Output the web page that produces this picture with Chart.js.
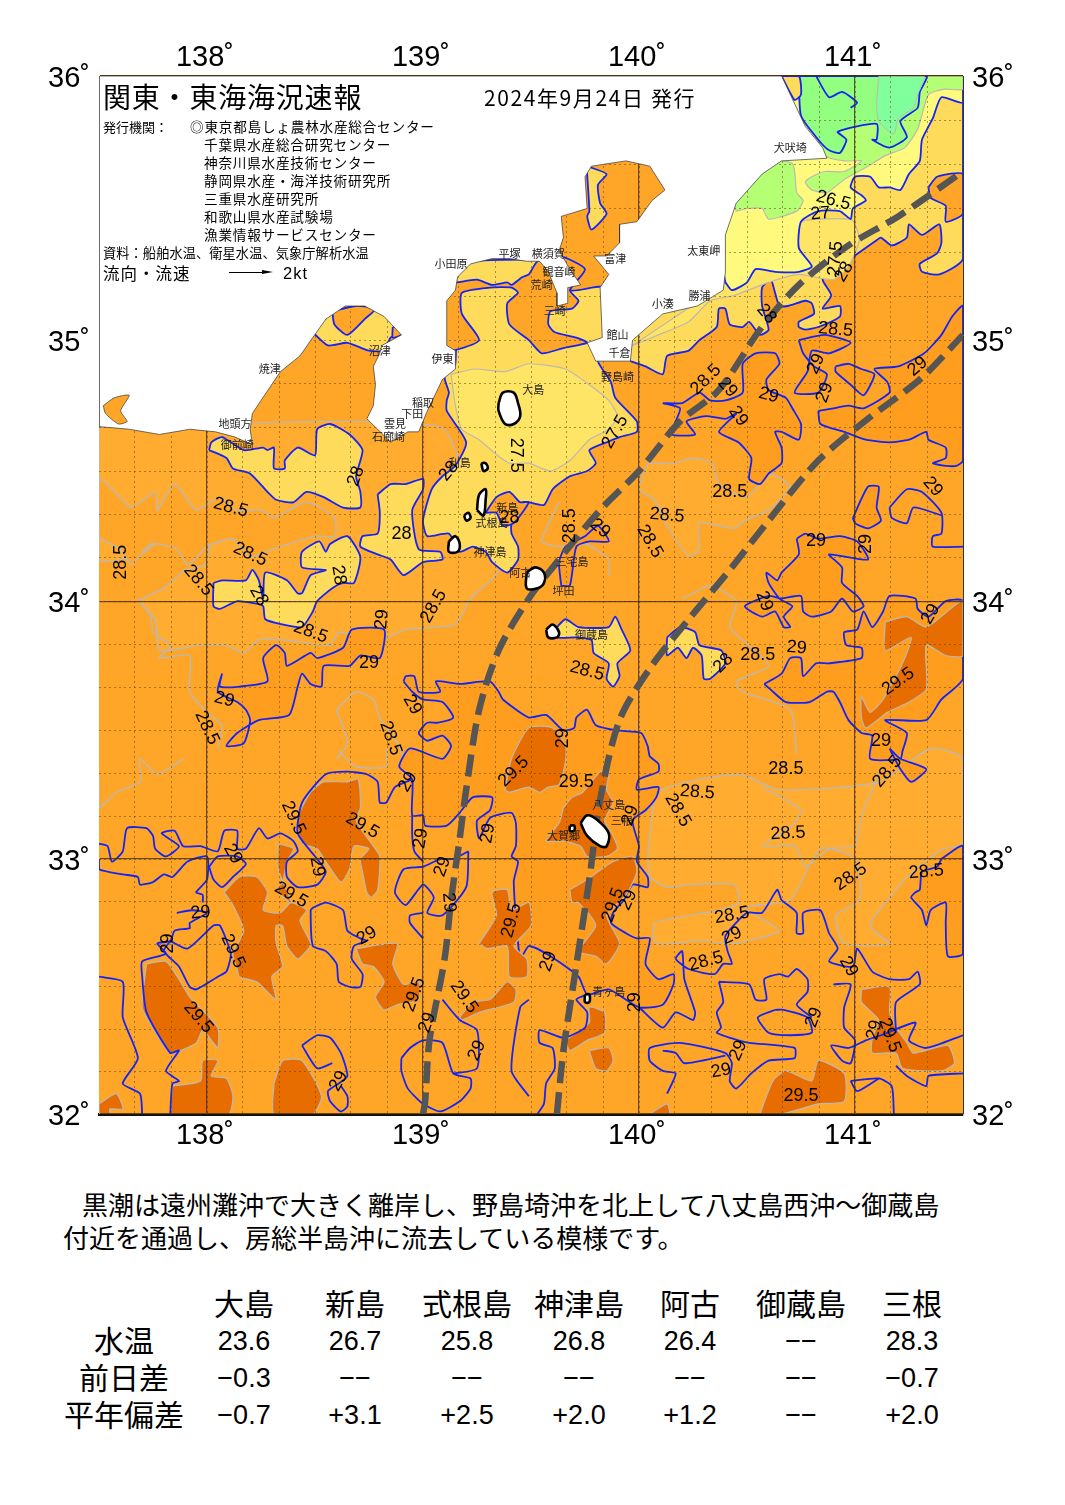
<!DOCTYPE html>
<html lang="ja">
<head>
<meta charset="utf-8">
<title>関東・東海海況速報</title>
<script src="https://cdn.jsdelivr.net/npm/chart.js@4/dist/chart.umd.min.js"></script>
<style>
    html, body { margin: 0; padding: 0; background: #fff; }
    body { position: relative; width: 1065px; height: 1505px; overflow: hidden; font-family: "Noto Sans CJK JP", sans-serif; color: #000; }
    #map { position: absolute; left: 0; top: 0; }
    .t { position: absolute; white-space: nowrap; line-height: 1; }
    .cell { position: absolute; transform: translate(-50%, -50%); white-space: nowrap; line-height: 1; }
    .num { font-family: "Liberation Sans", sans-serif; font-size: 27px; }
    .head { font-size: 30px; margin-top: -2px; }
</style>
</head>
<body>
<canvas id="map" width="1065" height="1160"></canvas>

<div class="t" style="left:103px;top:82px;font-size:28px;letter-spacing:.8px">関東・東海海況速報</div>
<div class="t" style="left:484px;top:87px;font-size:21px;letter-spacing:1.6px">2024年9月24日 発行</div>
<div class="t" style="left:103px;top:120px;font-size:13px">発行機関：</div>
<div class="t" style="left:190px;top:120px;font-size:13.6px;letter-spacing:.8px">◎東京都島しょ農林水産総合センター</div>
<div class="t" style="left:204px;top:138px;font-size:13.6px;letter-spacing:.8px">千葉県水産総合研究センター</div>
<div class="t" style="left:204px;top:156px;font-size:13.6px;letter-spacing:.8px">神奈川県水産技術センター</div>
<div class="t" style="left:204px;top:174px;font-size:13.6px;letter-spacing:.8px">静岡県水産・海洋技術研究所</div>
<div class="t" style="left:204px;top:192px;font-size:13.6px;letter-spacing:.8px">三重県水産研究所</div>
<div class="t" style="left:204px;top:210px;font-size:13.6px;letter-spacing:.8px">和歌山県水産試験場</div>
<div class="t" style="left:204px;top:228px;font-size:13.6px;letter-spacing:.8px">漁業情報サービスセンター</div>
<div class="t" style="left:103px;top:246px;font-size:13.2px;letter-spacing:.1px">資料：船舶水温、衛星水温、気象庁解析水温</div>
<div class="t" style="left:103px;top:265px;font-size:16.5px;letter-spacing:1px">流向・流速</div>
<div style="position:absolute;left:229px;top:272px;width:36px;height:1px;background:#000"></div>
<div style="position:absolute;left:262px;top:270px;border-left:11px solid #000;border-top:2.5px solid transparent;border-bottom:2.5px solid transparent"></div>
<div class="t" style="left:283px;top:265px;font-size:16.5px;letter-spacing:1px;font-family:'Liberation Sans',sans-serif">2kt</div>

<div class="t" style="left:82px;top:1191px;font-size:26px">黒潮は遠州灘沖で大きく離岸し、野島埼沖を北上して八丈島西沖～御蔵島</div>
<div class="t" style="left:63px;top:1224px;font-size:26px">付近を通過し、房総半島沖に流去している模様です。</div>
<div id="table"></div>

<script>
    // Axis ticks
    const lonTicks = [138, 139, 140, 141];
    const latTicks = [32, 33, 34, 35, 36];

    // Bulletin table
    const stationNames = ['大島', '新島', '式根島', '神津島', '阿古', '御蔵島', '三根'];
    const rowLabels = ['水温', '前日差', '平年偏差'];
    const waterTemps = ['23.6', '26.7', '25.8', '26.8', '26.4', '−−', '28.3'];
    const dayDiffs = ['−0.3', '−−', '−−', '−−', '−−', '−−', '−0.7'];
    const normalDiffs = ['−0.7', '+3.1', '+2.5', '+2.0', '+1.2', '−−', '+2.0'];

    // All outlines below are [longitude, latitude]
    const mapBounds = [[137.5,32],[141.5,32],[141.5,36],[137.5,36]];

    const coastline = [[137.5,34.67],[137.64,34.66],[137.78,34.64],[137.92,34.66],[138.04,34.65],[138.13,34.63],[138.21,34.60],[138.20,34.66],[138.21,34.72],[138.25,34.77],[138.34,34.88],[138.43,34.94],[138.49,35.01],[138.55,35.08],[138.64,35.13],[138.73,35.13],[138.82,35.09],[138.90,35.02],[138.81,34.98],[138.80,34.95],[138.77,34.90],[138.78,34.83],[138.77,34.75],[138.74,34.70],[138.79,34.66],[138.85,34.61],[138.93,34.65],[138.98,34.65],[139.02,34.73],[139.09,34.85],[139.15,34.89],[139.15,34.96],[139.11,34.98],[139.11,35.15],[139.15,35.19],[139.16,35.24],[139.22,35.29],[139.32,35.31],[139.40,35.31],[139.48,35.30],[139.54,35.30],[139.58,35.26],[139.62,35.18],[139.62,35.13],[139.67,35.14],[139.67,35.20],[139.73,35.21],[139.68,35.27],[139.63,35.34],[139.65,35.39],[139.64,35.47],[139.76,35.50],[139.75,35.62],[139.78,35.66],[139.94,35.68],[140.05,35.66],[140.12,35.57],[140.06,35.53],[139.99,35.45],[139.91,35.44],[139.91,35.37],[139.85,35.32],[139.79,35.32],[139.86,35.25],[139.82,35.20],[139.83,35.01],[139.76,34.99],[139.80,34.92],[139.96,34.92],[139.97,35.00],[140.11,35.10],[140.27,35.13],[140.39,35.19],[140.40,35.26],[140.40,35.40],[140.45,35.52],[140.57,35.63],[140.66,35.68],[140.87,35.69],[140.85,35.73],[140.77,35.81],[140.66,36],[137.5,36]];
    const atsumiSea = [[137.52,34.75],[137.57,34.78],[137.64,34.79],[137.60,34.73],[137.63,34.69],[137.59,34.68],[137.53,34.72]];

    // 28-28.5 areas
    const coolWest = [[137.5,34.67],[139.08,34.67],[139.22,34.39],[139.35,34.12],[139.22,34.01],[139.15,33.91],[138.92,33.89],[138.80,33.85],[138.61,33.88],[138.57,33.83],[138.36,33.85],[138.24,33.85],[138.17,33.80],[138.08,33.83],[137.97,33.83],[137.78,33.81],[137.76,33.93],[137.69,34.00],[137.80,34.05],[137.90,34.12],[137.99,34.14],[138.01,34.24],[137.94,34.24],[137.80,34.24],[137.69,34.18],[137.5,34.16]];
    const coolWestHole = [[137.56,34.43],[137.65,34.36],[137.76,34.42],[137.77,34.35],[137.85,34.45],[137.95,34.35],[138.06,34.40],[138.13,34.35],[138.25,34.35],[138.31,34.32],[138.46,34.38],[138.59,34.32],[138.59,34.25],[138.50,34.25],[138.30,34.20],[138.20,34.17],[138.12,34.24],[138.00,34.21],[137.91,34.14],[137.86,34.20],[137.74,34.22],[137.65,34.14],[137.60,34.20],[137.5,34.25],[137.5,34.47]];
    const coolCentre = [[140.04,34.53],[140.16,34.53],[140.25,34.55],[140.34,34.53],[140.37,34.45],[140.50,34.40],[140.60,34.49],[140.70,34.44],[140.60,34.35],[140.49,34.31],[140.44,34.28],[140.28,34.30],[140.28,34.20],[140.23,34.17],[140.13,34.29],[140.07,34.39],[140.00,34.43]];
    const coolSouthEast = [[140.04,33.01],[140.05,32.93],[140.13,32.89],[140.23,32.90],[140.44,32.90],[140.46,32.83],[140.37,32.80],[140.07,32.75],[140.08,32.67],[140.28,32.68],[140.44,32.67],[140.65,32.72],[140.49,32.81],[140.70,32.84],[140.84,33.04],[141.00,33],[141.02,32.84],[140.91,32.78],[140.95,32.67],[141.16,32.67],[141.07,32.74],[141.23,32.92],[141.34,33],[141.41,33.04],[141.5,33.06],[141.5,33.39],[141.35,33.43],[141.11,33.30],[140.65,33.27],[140.46,33.33],[140.09,33.26]];

    // 29+ areas
    const warmWest = [[138.07,33.72],[138.06,33.67],[138.15,33.67],[138.28,33.69],[138.26,33.78],[138.32,33.83],[138.36,33.80],[138.37,33.75],[138.48,33.80],[138.51,33.78],[138.63,33.82],[138.67,33.89],[138.82,33.89],[138.80,33.78],[138.71,33.79],[138.66,33.75],[138.54,33.75],[138.53,33.67],[138.48,33.68],[138.44,33.72],[138.42,33.67],[138.38,33.56],[138.24,33.54],[138.14,33.49],[138.09,33.44],[138.17,33.45],[138.20,33.54],[138.18,33.58],[138.14,33.61],[138.05,33.65]];
    const warmCentre = [[138.91,33.69],[138.92,33.71],[138.96,33.71],[138.98,33.65],[139.08,33.65],[139.06,33.69],[139.17,33.68],[139.31,33.69],[139.35,33.65],[139.37,33.62],[139.49,33.55],[139.57,33.56],[139.65,33.50],[139.70,33.51],[139.71,33.55],[139.76,33.58],[139.80,33.52],[139.90,33.50],[140.01,33.49],[140.04,33.44],[140.05,33.40],[140.09,33.37],[140.09,33.34],[140.00,33.31],[139.99,33.27],[140.09,33.28],[140.08,33.24],[140.03,33.19],[139.97,33.15],[140.00,33.05],[139.99,32.99],[140.04,32.93],[140.04,32.89],[139.97,32.90],[139.93,32.84],[139.88,32.79],[139.87,32.75],[139.94,32.71],[139.99,32.69],[140.05,32.69],[140.03,32.59],[140.09,32.53],[140.16,32.55],[140.16,32.51],[140.11,32.43],[140.00,32.42],[139.86,32.49],[139.76,32.47],[139.72,32.54],[139.59,32.62],[139.49,32.66],[139.45,32.61],[139.42,32.91],[139.44,32.99],[139.41,33.01],[139.43,33.05],[139.43,33.14],[139.41,33.18],[139.31,33.16],[139.26,33.08],[139.25,33.15],[139.31,33.19],[139.32,33.24],[139.23,33.24],[139.17,33.18],[139.11,33.13],[139.01,33.13],[139.00,33.17],[138.95,33.17],[138.95,33.31],[138.89,33.36],[138.94,33.43],[139.09,33.39],[139.13,33.44],[139.09,33.48],[139.02,33.46],[138.98,33.49],[139.02,33.53],[139.07,33.53],[139.14,33.55],[139.09,33.61],[139.00,33.62],[138.95,33.65]];
    const warmBosoOff = [[140.11,34.76],[140.20,34.76],[140.28,34.80],[140.33,34.77],[140.40,34.77],[140.48,34.80],[140.48,34.91],[140.54,34.95],[140.63,34.95],[140.65,34.91],[140.59,34.85],[140.60,34.81],[140.68,34.78],[140.71,34.74],[140.75,34.68],[140.74,34.62],[140.66,34.65],[140.63,34.65],[140.66,34.59],[140.66,34.53],[140.60,34.49],[140.56,34.45],[140.51,34.47],[140.52,34.55],[140.46,34.61],[140.37,34.65],[140.45,34.72],[140.40,34.70],[140.31,34.71],[140.22,34.69],[140.26,34.64],[140.15,34.64],[140.17,34.69],[140.19,34.74]];
    const warmPatchA = [[140.74,35],[140.86,35.02],[140.98,34.99],[140.88,34.95],[140.80,34.96],[140.78,34.88],[140.72,34.80],[140.83,34.80],[140.87,34.87],[140.81,34.90],[140.76,34.95]];
    const warmPatchB = [[140.91,34.90],[140.97,34.91],[141.03,34.89],[141.09,34.87],[141.04,34.79],[140.98,34.83],[140.91,34.88]];
    const warmEast = [[140.83,34.73],[140.84,34.68],[140.95,34.65],[141.05,34.62],[141.16,34.61],[141.25,34.62],[141.33,34.65],[141.34,34.62],[141.42,34.59],[141.42,34.55],[141.36,34.53],[141.42,34.52],[141.47,34.52],[141.5,34.54],[141.5,35.13],[141.45,35.09],[141.40,35.02],[141.32,34.95],[141.20,34.90],[141.09,34.89],[141.15,34.84],[141.16,34.80],[141.04,34.74],[140.97,34.75],[140.90,34.74]];
    const warmPatchC = [[140.99,34.32],[141.06,34.44],[141.11,34.44],[141.10,34.36],[141.12,34.31],[141.06,34.28],[141.00,34.30]];
    const warmBlobA = [[140.73,34.24],[140.77,34.26],[140.83,34.24],[140.93,34.25],[141.01,34.23],[141.06,34.16],[140.88,34.18],[140.94,34.13],[140.94,34.07],[141.01,34.02],[141.04,33.98],[140.99,33.96],[140.94,34.01],[140.89,33.96],[140.80,33.94],[140.76,33.96],[140.75,34.02],[140.66,34.01],[140.60,34.02],[140.49,33.98],[140.57,33.94],[140.63,33.96],[140.67,33.90],[140.70,33.90],[140.67,33.94],[140.71,33.98],[140.65,34.01],[140.60,34.07],[140.59,34.11],[140.64,34.08],[140.66,34.11],[140.74,34.18]];
    const warmBlobB = [[140.58,33.68],[140.66,33.72],[140.70,33.78],[140.75,33.78],[140.76,33.71],[140.82,33.76],[140.88,33.76],[141.03,33.78],[141.03,33.82],[140.96,33.83],[140.95,33.88],[141.01,33.89],[141.04,33.96],[141.08,33.90],[141.13,33.96],[141.16,34.02],[141.28,34.01],[141.29,33.97],[141.34,33.94],[141.42,34.00],[141.5,34],[141.5,33.70],[141.40,33.62],[141.33,33.54],[141.14,33.54],[141.24,33.49],[141.22,33.42],[141.21,33.39],[141.07,33.39],[141.08,33.48],[141.03,33.49],[140.97,33.54],[140.93,33.61],[140.90,33.65],[140.87,33.65],[140.79,33.61],[140.68,33.61],[140.62,33.65]];
    const warmPatchD = [[141.16,33.43],[141.21,33.39],[141.33,33.35],[141.26,33.30],[141.21,33.35]];
    const warmBlobC = [[141.40,33],[141.5,33.05],[141.5,32.63],[141.43,32.62],[141.42,32.75],[141.42,32.83],[141.35,32.80],[141.33,32.74],[141.31,32.80],[141.26,32.85],[141.28,32.87],[141.30,32.88],[141.31,32.95],[141.38,32.97]];
    const warmMiyake = [[139.64,34.06],[139.63,34.15],[139.66,34.21],[139.75,34.25],[139.81,34.29],[139.86,34.23],[139.77,34.23],[139.71,34.21],[139.68,34.06]];

    // Pockets below 29 inside the warm side
    const pocketA = [[138.49,32.81],[138.55,32.83],[138.63,32.80],[138.65,32.72],[138.71,32.69],[138.74,32.68],[138.68,32.66],[138.67,32.61],[138.72,32.55],[138.71,32.50],[138.66,32.50],[138.61,32.52],[138.60,32.59],[138.55,32.64],[138.49,32.66],[138.48,32.80]];
    const pocketB = [[137.83,32.68],[137.91,32.65],[138.03,32.74],[138.06,32.74],[138.11,32.63],[138.09,32.56],[138.05,32.54],[137.95,32.49],[137.92,32.50],[137.87,32.58],[137.80,32.64]];

    // 29.5+ areas
    const hotA = [[138.42,33.17],[138.48,33.26],[138.54,33.30],[138.65,33.30],[138.70,33.31],[138.71,33.20],[138.69,33.15],[138.77,33.05],[138.80,33.01],[138.79,32.88],[138.76,32.85],[138.74,32.87],[138.72,32.95],[138.71,33.00],[138.75,33.04],[138.68,33.05],[138.66,32.96],[138.62,32.91],[138.55,32.99],[138.51,33.04],[138.44,33.06],[138.42,33.12]];
    const hotB = [[138.08,32.87],[138.15,32.93],[138.23,32.93],[138.28,32.87],[138.26,32.80],[138.34,32.79],[138.39,32.83],[138.46,32.80],[138.43,32.76],[138.48,32.67],[138.47,32.65],[138.42,32.61],[138.37,32.66],[138.35,32.74],[138.32,32.74],[138.32,32.67],[138.35,32.58],[138.30,32.54],[138.32,32.45],[138.28,32.48],[138.23,32.52],[138.15,32.54],[138.14,32.57],[138.12,32.63],[138.17,32.72],[138.12,32.82]];
    const hotBStrip = [[138.33,33.06],[138.40,33.04],[138.37,32.99],[138.35,32.91],[138.32,32.88],[138.39,32.83],[138.33,32.96]];
    const hotC = [[137.72,32.59],[137.81,32.60],[137.87,32.53],[137.92,32.46],[138.05,32.34],[138.05,32.26],[138.03,32.28],[137.98,32.33],[137.95,32.28],[137.83,32.24],[137.75,32.34],[137.70,32.42]];
    const hotD = [[137.5,32.04],[137.58,32.08],[137.61,32.02],[137.55,32.02],[137.55,32],[137.5,32]];
    const hotE = [[137.84,32.11],[137.97,32.13],[137.98,32.21],[138.05,32.21],[138.02,32.15],[138.09,32.14],[138.12,32.07],[138.10,32],[137.84,32]];
    const hotF = [[138.31,32.12],[138.35,32.21],[138.44,32.21],[138.53,32.07],[138.49,32],[138.31,32]];
    const hotG = [[138.69,32.65],[138.88,32.67],[138.86,32.59],[138.91,32.51],[138.98,32.52],[138.98,32.45],[138.88,32.43],[138.82,32.41],[138.78,32.46],[138.82,32.52],[138.77,32.58],[138.72,32.59]];
    const hotH = [[139.17,32.38],[139.23,32.44],[139.31,32.45],[139.39,32.52],[139.43,32.49],[139.42,32.44],[139.26,32.40],[139.18,32.37]];
    const hotI = [[139.26,32.67],[139.34,32.78],[139.32,32.87],[139.39,32.88],[139.41,32.80],[139.49,32.83],[139.50,32.74],[139.42,32.66],[139.48,32.61],[139.48,32.54],[139.40,32.54],[139.39,32.66],[139.30,32.65]];
    const hotJ = [[139.38,33.27],[139.41,33.39],[139.49,33.51],[139.60,33.51],[139.66,33.44],[139.66,33.38],[139.63,33.29],[139.58,33.28],[139.54,33.26],[139.49,33.28],[139.40,33.26]];
    const hotK = [[139.65,33.20],[139.69,33.24],[139.74,33.26],[139.82,33.34],[139.86,33.34],[139.85,33.27],[139.88,33.22],[139.84,33.15],[139.88,33.09],[139.90,33.04],[139.85,33.01],[139.76,33.01],[139.73,33.05],[139.65,33.07],[139.57,33.07],[139.63,33.14]];
    const hotL = [[139.68,32.88],[139.76,32.92],[139.88,32.99],[139.97,33.01],[139.99,32.95],[139.94,32.86],[139.85,32.78],[139.91,32.67],[139.85,32.59],[139.80,32.62],[139.72,32.64],[139.80,32.74],[139.72,32.83],[139.69,32.83]];
    const hotM = [[139.66,32.29],[139.77,32.36],[139.77,32.42],[139.84,32.40],[139.84,32.32],[139.76,32.29],[139.68,32.25]];
    const hotN = [[139.77,32.25],[139.86,32.26],[139.88,32.21],[139.85,32.17],[139.80,32.18]];
    const hotO = [[140.05,32],[140.13,32.04],[140.14,32]];
    const hotP = [[140.56,32],[140.62,32.13],[140.68,32.17],[140.80,32.13],[140.83,32.21],[140.95,32.16],[140.95,32.05],[140.83,32.04],[140.66,32]];
    const hotQ = [[141.03,32.49],[141.16,32.50],[141.16,32.40],[141.19,32.34],[141.24,32.28],[141.27,32.24],[141.43,32.27],[141.46,32.20],[141.40,32.17],[141.22,32.18],[141.19,32.24],[141.08,32.24],[141.08,32.30],[141.11,32.37],[141.03,32.44]];
    const hotR = [[141.14,33.92],[141.24,33.94],[141.33,33.90],[141.5,34],[141.5,33.79],[141.42,33.79],[141.33,33.83],[141.33,33.66],[141.25,33.61],[141.15,33.57],[141.05,33.51],[141.03,33.55],[141.03,33.63],[141.07,33.57],[141.13,33.62],[141.22,33.76],[141.26,33.86],[141.14,33.81]];

    // Below 28 areas
    const sagami28 = [[139.15,35.30],[139.58,35.30],[139.68,35.19],[139.84,35.20],[139.84,34.98],[139.81,34.92],[139.87,34.84],[139.89,34.78],[139.99,34.69],[139.99,34.65],[139.91,34.63],[139.85,34.61],[139.77,34.58],[139.80,34.53],[139.76,34.50],[139.68,34.48],[139.60,34.43],[139.56,34.37],[139.49,34.38],[139.46,34.38],[139.41,34.30],[139.41,34.26],[139.44,34.21],[139.44,34.16],[139.39,34.11],[139.32,34.15],[139.29,34.19],[139.23,34.21],[139.17,34.19],[139.12,34.26],[139.02,34.25],[139.00,34.31],[139.04,34.43],[139.09,34.48],[139.15,34.52],[139.20,34.61],[139.11,34.73],[139.11,34.77],[139.12,34.80],[139.10,34.86],[139.15,34.91]];
    const sagamiHole = [[139.16,35.22],[139.25,35.23],[139.32,35.21],[139.39,35.22],[139.41,35.21],[139.46,35.24],[139.49,35.25],[139.53,35.30],[139.63,35.32],[139.75,35.27],[139.68,35.19],[139.72,35.15],[139.69,35.12],[139.59,35.11],[139.58,35.06],[139.61,35.03],[139.71,35.01],[139.76,34.99],[139.65,34.97],[139.55,34.95],[139.49,35.00],[139.40,35.06],[139.39,35.14],[139.44,35.18],[139.41,35.20],[139.31,35.20],[139.18,35.18],[139.18,35.10],[139.26,35.00],[139.14,34.96],[139.08,34.96],[139.08,35.22]];
    const oshima275 = [[139.13,34.87],[139.24,34.89],[139.38,34.88],[139.49,34.91],[139.66,34.89],[139.77,34.83],[139.86,34.77],[139.90,34.71],[139.86,34.66],[139.77,34.62],[139.68,34.54],[139.59,34.50],[139.49,34.53],[139.40,34.53],[139.33,34.57],[139.26,34.62],[139.18,34.66],[139.15,34.75]];
    const niijimaHole = [[139.29,34.34],[139.34,34.40],[139.40,34.42],[139.45,34.38],[139.49,34.38],[139.42,34.30],[139.37,34.29],[139.34,34.34]];
    const enshu28 = [[138.01,34.58],[138.09,34.55],[138.12,34.51],[138.20,34.49],[138.28,34.42],[138.32,34.39],[138.40,34.38],[138.46,34.42],[138.54,34.40],[138.63,34.36],[138.71,34.36],[138.71,34.42],[138.69,34.48],[138.72,34.58],[138.66,34.64],[138.57,34.68],[138.51,34.66],[138.50,34.56],[138.42,34.59],[138.36,34.54],[138.36,34.51],[138.31,34.51],[138.31,34.59],[138.28,34.58],[138.26,34.59],[138.17,34.58],[138.07,34.63],[138.02,34.61]];
    const zenisu28 = [[138.79,34.41],[138.85,34.45],[138.92,34.45],[139.00,34.47],[139.00,34.43],[138.95,34.35],[138.98,34.20],[139.08,34.19],[139.09,34.16],[139.00,34.15],[138.91,34.10],[138.85,34.16],[138.79,34.18],[138.71,34.21],[138.72,34.25],[138.79,34.26],[138.80,34.34]];
    const lobes28 = [[138.03,34.07],[138.03,33.98],[138.06,33.97],[138.14,34.00],[138.23,33.99],[138.26,33.98],[138.27,33.93],[138.35,33.91],[138.44,33.90],[138.49,33.96],[138.51,34.00],[138.58,34.05],[138.63,34.07],[138.68,34.07],[138.71,34.17],[138.65,34.25],[138.57,34.22],[138.55,34.19],[138.52,34.23],[138.44,34.19],[138.44,34.13],[138.55,34.12],[138.48,34.10],[138.44,34.03],[138.42,34.03],[138.37,34.08],[138.27,34.11],[138.26,34.01],[138.24,34.08],[138.21,34.12],[138.18,34.08],[138.07,34.08]];
    const mikura28 = [[139.62,33.90],[139.66,33.93],[139.72,33.90],[139.86,33.90],[139.89,33.94],[139.92,33.89],[139.96,33.81],[139.90,33.76],[139.91,33.71],[139.88,33.67],[139.85,33.70],[139.86,33.76],[139.79,33.80],[139.78,33.85],[139.71,33.86],[139.62,33.86]];
    const eastPatch28 = [[140.13,33.86],[140.19,33.90],[140.26,33.88],[140.28,33.83],[140.38,33.81],[140.40,33.76],[140.33,33.70],[140.30,33.70],[140.29,33.79],[140.25,33.82],[140.22,33.78],[140.18,33.82],[140.13,33.79]];
    const suruga28 = [[138.49,35.03],[138.57,35.10],[138.69,35.12],[138.78,35.12],[138.86,35.08],[138.90,35.03],[138.85,35.01],[138.82,34.96],[138.75,34.96],[138.65,34.99],[138.56,34.98]];
    const surugaHole = [[138.58,35.11],[138.59,35.06],[138.65,35.02],[138.73,35.08],[138.78,35.12],[138.69,35.13]];
    const surugaTip = [[138.86,35.05],[138.90,35.05],[138.90,35.02],[138.86,35.01]];
    const tokyoBay28 = [[139.76,35.66],[139.85,35.63],[139.81,35.59],[139.82,35.52],[139.85,35.48],[139.78,35.42],[139.76,35.47],[139.77,35.49],[139.76,35.63]];
    const boso28 = [[139.96,34.92],[140.03,34.90],[140.11,34.87],[140.13,34.94],[140.23,34.96],[140.28,35.00],[140.36,35.05],[140.37,35.12],[140.40,35.12],[140.42,35.06],[140.48,35.05],[140.51,35.07],[140.56,35.02],[140.60,35.04],[140.57,35.13],[140.57,35.20],[140.61,35.23],[140.63,35.18],[140.65,35.13],[140.69,35.13],[140.77,35.15],[140.80,35.14],[140.81,35.10],[140.74,35.07],[140.74,35.05],[140.77,35.04],[140.83,35.05],[140.93,35.09],[140.93,35.13],[140.85,35.12],[140.89,35.17],[140.85,35.23],[140.88,35.27],[140.94,35.28],[140.98,35.31],[141.10,35.38],[141.12,35.39],[141.17,35.36],[141.24,35.39],[141.25,35.44],[141.31,35.40],[141.39,35.44],[141.40,35.37],[141.38,35.33],[141.30,35.29],[141.31,35.26],[141.39,35.25],[141.5,35.31],[141.5,36],[140.66,36],[139.91,35.0]];
    const bosoHole = [[141.34,35.58],[141.38,35.62],[141.5,35.63],[141.5,35.48],[141.42,35.45],[141.42,35.51],[141.35,35.54]];
    const boso275 = [[139.97,34.98],[140.09,35.02],[140.23,35.07],[140.33,35.15],[140.44,35.17],[140.60,35.22],[140.74,35.25],[140.90,35.23],[140.97,35.28],[141.02,35.38],[141.00,35.44],[140.98,35.46],[140.75,35.45],[140.74,35.35],[140.80,35.28],[140.54,35.27],[140.40,35.22],[140.28,35.15]];
    const boso27 = [[140.40,35.22],[140.43,35.19],[140.50,35.22],[140.54,35.27],[140.63,35.26],[140.74,35.26],[140.80,35.28],[140.74,35.35],[140.75,35.45],[140.83,35.49],[140.93,35.49],[140.98,35.46],[140.99,35.50],[141.05,35.53],[141.03,35.55],[140.98,35.58],[141.00,35.62],[141.07,35.62],[141.11,35.58],[141.16,35.58],[141.21,35.57],[141.25,35.63],[141.30,35.68],[141.31,35.76],[141.36,35.84],[141.40,35.92],[141.5,35.90],[141.5,36],[140.66,36],[140.37,35.38]];
    const choshi265 = [[140.45,35.49],[140.50,35.50],[140.57,35.50],[140.60,35.46],[140.73,35.49],[140.76,35.53],[140.73,35.56],[140.71,35.67],[140.56,35.68],[140.42,35.57]];
    const north265 = [[140.70,36],[141.5,36],[141.50,35.95],[141.41,35.95],[141.34,35.93],[141.29,35.80],[141.23,35.73],[141.14,35.70],[141.06,35.66],[140.95,35.61],[140.87,35.56],[140.80,35.57],[140.77,35.60],[140.80,35.62],[140.86,35.64],[140.95,35.64],[141.03,35.68],[140.95,35.68],[140.86,35.70],[140.81,35.80]];
    const north26 = [[140.74,36],[140.75,35.85],[140.83,35.76],[140.88,35.72],[140.93,35.71],[140.96,35.76],[140.92,35.79],[141.10,35.82],[141.10,35.76],[141.08,35.76],[141.16,35.73],[141.24,35.77],[141.21,35.83],[141.29,35.88],[141.30,35.94],[141.33,36]];
    const north255 = [[141.11,36],[141.32,36],[141.29,35.93],[141.27,35.88],[141.20,35.84],[141.18,35.78],[141.11,35.83],[141.10,35.89]];
    const northCorner = [[140.66,36],[140.74,36],[140.75,35.93],[140.72,35.91]];

    // Open 29 degree isotherms
    const line29Gulf = [[137.50,33.06],[137.54,33.05],[137.56,32.99],[137.61,33.03],[137.63,33.12],[137.72,33.12],[137.75,33.09],[137.76,33.04],[137.81,33.01],[137.87,33.05],[137.79,33.10],[137.85,33.11],[137.89,33.05],[137.97,33.05],[138.05,33.03],[138.08,33.11],[138.14,33.11],[138.14,33.04],[138.18,33.04],[138.24,33.12],[138.28,33.08],[138.34,33.10],[138.40,33.07],[138.42,33.03],[138.37,32.99],[138.37,32.93],[138.42,32.89],[138.51,32.90],[138.55,32.95],[138.51,33.00],[138.42,33.10],[138.44,33.22],[138.55,33.33],[138.65,33.34],[138.74,33.33],[138.79,33.30],[138.80,33.22],[138.83,33.22],[138.87,33.28],[138.95,33.31]];
    const line29Below = [[137.5,33],[137.5,32.96],[137.61,32.94],[137.68,32.93],[137.69,32.90],[137.75,32.91],[137.80,32.94],[137.84,32.93],[137.91,32.99],[138.00,33.01],[138.00,32.92],[137.95,32.87],[137.98,32.86],[137.98,32.83]];
    const loop29 = [[138.01,32.97],[138.05,33.01],[138.14,33.01],[138.18,32.98],[138.12,32.93],[138.07,32.89],[138.03,32.92],[138.01,32.97]];
    const line29Left = [[137.86,32.79],[137.93,32.80],[138.00,32.79],[137.92,32.75],[137.92,32.73],[137.85,32.72],[137.83,32.68],[137.77,32.67],[137.81,32.63],[137.70,32.60],[137.70,32.54],[137.72,32.40],[137.83,32.24],[137.87,32.25],[137.81,32.17],[137.87,32.13],[137.84,32.12],[137.83,32]];
    const line29Edge = [[137.5,32.54],[137.61,32.52],[137.61,32.38],[137.68,32.22],[137.61,32.12],[137.69,32.08],[137.70,32]];
    const line29Foot = [[138.44,32.27],[138.51,32.31],[138.57,32.30],[138.62,32.24],[138.65,32.15],[138.61,32.12],[138.56,32.09],[138.57,32.05],[138.62,32.01],[138.65,32.03],[138.65,32.07],[138.62,32.11]];
    const line29FootB = [[138.44,32.27],[138.51,32.18],[138.58,32.20]];
    const loop29South = [[138.90,32.22],[138.94,32.26],[139.00,32.29],[139.09,32.28],[139.14,32.16],[139.22,32.14],[139.22,32.10],[139.17,32.05],[139.08,32.01],[139.00,32.04],[138.93,32.10],[138.90,32.17],[138.90,32.22]];
    const line29SouthB = [[139.14,32.16],[139.25,32.18],[139.25,32.33],[139.17,32.37],[139.09,32.45]];
    const line29Aoga = [[139.76,32.47],[139.71,32.45],[139.76,32.40],[139.75,32.34],[139.65,32.30],[139.54,32.33],[139.54,32.28],[139.60,32.26],[139.61,32.18],[139.57,32.12],[139.56,32.04],[139.53,32]];
    const line29AogaB = [[139.49,32.45],[139.45,32.42],[139.41,32.17],[139.49,32.07]];
    const line29Mid = [[138.95,33.17],[138.95,33.09],[138.96,33.03],[139.00,32.99]];
    const line29MidB = [[139.21,33.03],[139.14,33],[139.08,33],[139.00,32.97],[138.91,32.96],[138.87,32.87],[138.92,32.82],[139.00,32.90],[139.05,32.85],[139.02,32.79],[139.09,32.78],[139.20,32.89],[139.21,33.03]];
    const line29MidC = [[139,32.79],[138.94,32.78],[138.94,32.75],[139.00,32.69]];
    const line29Long = [[140.00,32.42],[140.11,32.34],[140.17,32.40],[140.25,32.37],[140.26,32.40],[140.21,32.53],[140.20,32.64],[140.17,32.61],[140.23,32.57],[140.35,32.55],[140.39,32.59],[140.43,32.59],[140.41,32.64],[140.40,32.70],[140.50,32.79],[140.57,32.79],[140.64,32.88],[140.66,32.84],[140.73,32.79],[140.73,32.71],[140.76,32.71],[140.76,32.79],[140.84,32.80],[140.88,32.71],[140.92,32.65],[140.88,32.60],[140.99,32.58],[141.01,32.65],[141.08,32.56],[141.16,32.53],[141.25,32.53],[141.29,32.56],[141.30,32.51],[141.19,32.44],[141.19,32.32]];
    const line29Ring = [[140.37,32.52],[140.51,32.51],[140.54,32.45],[140.59,32.45],[140.58,32.53],[140.65,32.55],[140.69,32.54],[140.73,32.57],[140.78,32.53],[140.78,32.48],[140.73,32.43],[140.80,32.38]];
    const line29RingB = [[140.37,32.52],[140.39,32.44],[140.36,32.40],[140.38,32.34],[140.36,32.32],[140.46,32.29],[140.51,32.28],[140.72,32.26],[140.72,32.22],[140.60,32.21],[140.52,32.16],[140.45,32.10],[140.42,32.13],[140.43,32.20],[140.40,32.24],[140.19,32.28],[140.05,32.26],[140.05,32.21],[140.11,32.17],[140.17,32.16],[140.13,32.08]];
    const line29RingC = [[140.11,32.25],[140.17,32.24],[140.21,32.20],[140.40,32.23]];
    const loop29Inner = [[140.63,32.41],[140.55,32.38],[140.60,32.32],[140.70,32.31],[140.80,32.32],[140.78,32.38],[140.67,32.41],[140.63,32.41]];
    const line29EastLow = [[140.90,32.51],[140.98,32.51],[140.95,32.42],[140.95,32.34],[141.00,32.29],[140.98,32.20],[140.94,32.21],[140.89,32.27],[140.97,32.26],[141.05,32.29],[141.12,32.31],[141.28,32.36],[141.25,32.29],[141.33,32.26],[141.5,32.31]];
    const line29Foot2 = [[140.98,32.13],[141.11,32.14],[141.17,32.11],[141.18,32]];
    const line29Foot2B = [[140.98,32.13],[141.01,32.09],[141.11,32.14]];
    const line29Corner = [[141.19,32.19],[141.24,32.15],[141.33,32.11],[141.34,32.15],[141.5,32.16]];
    const line29Right = [[141.16,34.36],[141.24,34.43],[141.31,34.42],[141.40,34.34],[141.40,34.26],[141.36,34.25],[141.36,34.21],[141.5,34.21]];
    const line29RightB = [[141.16,34.36],[141.17,34.32],[141.24,34.30],[141.27,34.36],[141.40,34.33]];
    const lineNorthInner = [[140.82,36],[140.88,35.92],[140.94,35.94],[141.01,35.90],[140.98,35.88]];

    // Open 28.5 degree isotherms
    const line285Miyake = [[139.63,34.38],[139.55,34.23],[139.63,34.21],[139.75,34.22],[139.86,34.16],[139.86,34.10]];
    const line285East = [[140.20,34.01],[140.25,34.03],[140.33,34.06],[140.45,34],[140.42,33.90],[140.48,33.85],[140.60,33.75],[140.45,33.69],[140.48,33.65],[140.70,33.58],[140.73,33.41]];
    const line285Hachijo = [[140.57,33.28],[140.66,33.24],[140.75,33.19],[140.71,33.13],[140.57,33.05],[140.72,33.05],[140.77,32.97],[140.88,33.04],[141.00,33.05],[141.03,33.17],[141.12,33.35]];
    const line285Edge = [[137.5,33.33],[137.5,33.20],[137.58,33.26],[137.69,33.30],[137.69,33.39],[137.77,33.33],[137.89,33.39]];
    const line285West = [[137.68,34.01],[137.74,33.94],[137.75,33.88],[137.83,33.83],[137.78,33.78],[137.92,33.79],[137.92,33.65],[138.00,33.57],[138.07,33.52],[138.05,33.43]];
    const line285Centre = [[138.60,33.58],[138.69,33.65],[138.77,33.62],[138.80,33.55],[138.89,33.44],[138.91,33.39]];
    const line285CentreB = [[138.60,33.58],[138.65,33.45],[138.60,33.39]];
    const line285CentreC = [[138.61,33.42],[138.69,33.36],[138.83,33.36],[138.83,33.43]];

    // Kuroshio axis, two branches
    const kuroshioWest = [[139.00,32],[139.01,32.05],[139.03,32.29],[139.10,32.61],[139.13,32.84],[139.17,33.08],[139.20,33.27],[139.26,33.58],[139.35,33.81],[139.49,34.01],[139.63,34.16],[139.82,34.35],[140.00,34.50],[140.19,34.69],[140.37,34.81],[140.56,35.04],[140.74,35.21],[140.97,35.36],[141.20,35.47],[141.50,35.64]];
    const kuroshioEast = [[139.62,32],[139.65,32.25],[139.70,32.53],[139.77,32.92],[139.82,33.23],[139.91,33.54],[140.05,33.74],[140.23,33.93],[140.42,34.12],[140.60,34.31],[140.83,34.54],[141.06,34.70],[141.30,34.85],[141.50,35.02]];

    // Islands
    const islandOshima = [[139.35,34.76],[139.37,34.80],[139.42,34.80],[139.44,34.76],[139.45,34.71],[139.42,34.68],[139.38,34.68],[139.35,34.73]];
    const islandToshima = [[139.27,34.53],[139.29,34.53],[139.30,34.51],[139.28,34.50]];
    const islandNiijima = [[139.25,34.35],[139.26,34.41],[139.29,34.43],[139.29,34.39],[139.28,34.33]];
    const islandShikine = [[139.19,34.33],[139.21,34.34],[139.22,34.32],[139.20,34.31]];
    const islandKozu = [[139.12,34.23],[139.15,34.25],[139.17,34.22],[139.16,34.19],[139.12,34.19]];
    const islandMiyake = [[139.48,34.11],[139.52,34.13],[139.56,34.11],[139.56,34.07],[139.53,34.05],[139.48,34.05]];
    const islandMikura = [[139.57,33.89],[139.60,33.91],[139.63,33.88],[139.62,33.86],[139.58,33.86]];
    const islandHachijo = [[139.73,33.14],[139.76,33.17],[139.81,33.15],[139.86,33.10],[139.85,33.05],[139.82,33.05],[139.76,33.09]];
    const islandKojima = [[139.68,33.13],[139.70,33.13],[139.70,33.11],[139.68,33.11]];
    const islandAoga = [[139.75,32.47],[139.77,32.47],[139.77,32.44],[139.75,32.44]];

    // Isotherm labels: text, lon, lat, reading angle
    const contourLabels = [
        ['26.5',140.90,35.53,15],['27',140.84,35.48,-5],['27.5',140.91,35.31,-85],['28',140.95,35.26,-60],['28',140.59,35.10,50],
        ['28.5',140.31,34.85,-45],['29',140.41,34.82,50],['29',140.60,34.79,15],['29',140.46,34.71,55],['29',140.82,34.91,-65],
        ['29',140.86,34.80,-70],['28.5',140.91,35.04,5],['29',141.29,34.90,-40],['28',138.69,34.48,-70],['27.5',139.43,34.56,90],
        ['27.5',139.89,34.65,-60],['28',139.12,34.50,-50],['28',139.40,34.32,0],['28',138.90,34.26,0],['28.5',138.11,34.36,15],
        ['28.5',138.20,34.18,25],['28.5',137.96,34.08,50],['28.5',137.60,34.15,-90],['28',138.24,34.02,60],['28',138.61,34.10,80],
        ['28.5',138.48,33.88,20],['29',138.81,33.93,-85],['29',138.75,33.76,0],['28.5',139.05,33.98,-60],['28.5',139.68,34.29,-90],
        ['29',139.82,34.28,40],['28.5',140.13,34.33,5],['28.5',140.42,34.42,0],['28.5',140.05,34.23,60],['29',140.82,34.23,0],
        ['29',141.05,34.22,-90],['29',141.36,34.44,50],['29',140.58,34.00,70],['29',140.73,33.82,5],['28.5',140.55,33.79,0],
        ['28',140.39,33.76,-45],['29',141.35,33.95,-60],['29.5',141.20,33.69,-35],['29',141.12,33.46,0],['28.5',141.15,33.34,-50],
        ['28.5',140.68,33.35,0],['28.5',140.69,33.10,-3],['28.5',140.27,33.26,5],['28.5',140.18,33.19,60],['29.5',139.71,33.30,0],
        ['29.5',139.42,33.34,-45],['29',139.65,33.47,-90],['28.5',139.76,33.73,15],['29',138.08,33.62,15],['28.5',138.00,33.51,65],
        ['29',138.95,33.60,60],['28.5',138.85,33.47,70],['29',138.93,33.30,-60],['29.5',138.40,33.16,65],['29.5',138.72,33.13,30],
        ['29',138.12,33.02,60],['29',138.51,32.97,80],['29.5',138.39,32.86,30],['29',137.97,32.79,-5],['29',137.82,32.67,-90],
        ['29.5',138.12,32.64,65],['29.5',137.96,32.38,50],['29',138.74,32.70,-30],['29',138.99,33.08,-80],['29',139.09,32.97,-70],
        ['29',139.30,33.10,-80],['29',139.12,32.83,85],['29.5',139.41,32.76,-75],['29',139.58,32.60,-70],['29.5',138.96,32.47,-70],
        ['29.5',139.19,32.46,55],['29',139.02,32.36,-70],['29',139.25,32.25,-65],['29',138.61,32.13,-60],['29.5',139.88,32.82,-70],
        ['29',139.95,32.84,-65],['29',139.96,33.17,-70],['29',139.98,32.44,-90],['28.5',140.43,32.78,-10],['29',140.43,32.70,-25],
        ['28.5',140.31,32.60,-15],['29',140.97,32.58,60],['29',140.81,32.38,-70],['29',140.46,32.25,-65],['29',140.38,32.17,-10],
        ['29.5',140.75,32.07,0],['29',141.09,32.33,-75],['29.5',141.16,32.31,70],['28.5',140.98,32.93,-35],['28.5',141.33,32.95,-5]
    ];

    const placeNames = [
        ['小田原',139.13,35.29],['平塚',139.40,35.33],['横須賀',139.58,35.33],['観音崎',139.63,35.26],['荒崎',139.55,35.21],
        ['三崎',139.61,35.11],['富津',139.89,35.31],['館山',139.90,35.02],['千倉',139.91,34.95],['野島崎',139.90,34.86],
        ['大島',139.51,34.81],['太東岬',140.30,35.34],['小湊',140.11,35.14],['勝浦',140.28,35.17],['犬吠埼',140.70,35.73],
        ['沼津',138.80,34.96],['焼津',138.29,34.89],['伊東',139.09,34.93],['稲取',139.00,34.76],['下田',138.95,34.72],
        ['雲見',138.87,34.68],['石廊崎',138.84,34.63],['地頭方',138.13,34.68],['御前崎',138.14,34.60],['利島',139.17,34.53],
        ['新島',139.39,34.36],['式根島',139.32,34.30],['神津島',139.31,34.19],['阿古',139.45,34.11],['三宅島',139.69,34.15],
        ['坪田',139.65,34.04],['御蔵島',139.78,33.87],['八丈島',139.86,33.21],['三根',139.92,33.15],['大賀郷',139.65,33.09],
        ['青ヶ島',139.86,32.48]
    ];

    const BLUE = '#1424f5';
    const GREY = '#bdb8b0';
    const SEA = '#ffa629';
    const WARM = '#ff9d1e';
    const HOT = '#e86d00';
    const COOL = '#ffac30';
    const Y28 = '#ffdb5c';
    const Y275 = '#ffe566';
    const Y27 = '#fffa7d';
    const G265 = '#b4ff73';
    const G26 = '#92ff80';
    const G255 = '#80ff9c';

    function area(points, fill, line, width) {
        const closed = points.concat([points[0]]);
        return {
            data: closed.map(p => ({ x: p[0], y: p[1] })),
            showLine: true,
            fill: 'shape',
            backgroundColor: fill,
            borderColor: line || fill,
            borderWidth: width === undefined ? 1.8 : width,
            pointRadius: 0,
            tension: 0.2
        };
    }

    function contour(points, line, width) {
        return {
            data: points.map(p => ({ x: p[0], y: p[1] })),
            showLine: true,
            fill: false,
            borderColor: line || BLUE,
            borderWidth: width || 1.8,
            pointRadius: 0,
            tension: 0.2
        };
    }

    function island(points) {
        const ds = area(points, '#fff', '#000', 2.6);
        ds.tension = 0.35;
        return ds;
    }

    function kuroshio(points) {
        const ds = contour(points, '#555', 6.5);
        ds.borderDash = [22, 9];
        ds.tension = 0.3;
        return ds;
    }

    const seaLayers = [
        area(mapBounds, SEA, SEA, 0),
        area(coolWest, COOL, GREY, 1.4),
        area(coolWestHole, SEA, GREY, 1.4),
        area(coolCentre, COOL, GREY, 1.4),
        area(coolSouthEast, COOL, GREY, 1.4)
    ];
    [line285Miyake, line285East, line285Hachijo, line285Edge, line285West, line285Centre, line285CentreB, line285CentreC].forEach(p => {
        seaLayers.push(contour(p, GREY, 1.4));
    });
    seaLayers.push(
        area(warmWest, WARM, BLUE),
        area(warmCentre, WARM, BLUE),
        area(warmBosoOff, WARM, BLUE),
        area(warmPatchA, WARM, BLUE),
        area(warmPatchB, WARM, BLUE),
        area(warmEast, WARM, BLUE),
        area(warmPatchC, WARM, BLUE),
        area(warmBlobA, WARM, BLUE),
        area(warmBlobB, WARM, BLUE),
        area(warmPatchD, WARM, BLUE),
        area(warmBlobC, WARM, BLUE),
        area(warmMiyake, WARM, BLUE),
        area(pocketA, SEA, BLUE),
        area(pocketB, SEA, BLUE)
    );
    [hotA, hotB, hotBStrip, hotC, hotD, hotE, hotF, hotG, hotH, hotI, hotJ, hotK, hotL, hotM, hotN, hotO, hotP, hotQ, hotR].forEach(p => {
        seaLayers.push(area(p, HOT, GREY, 1.2));
    });
    seaLayers.push(
        area(sagami28, Y28, BLUE),
        area(oshima275, Y275, GREY, 1.2),
        area(sagamiHole, SEA, BLUE),
        area(niijimaHole, SEA, BLUE),
        area(enshu28, Y28, BLUE),
        area(zenisu28, Y28, BLUE),
        area(lobes28, Y28, BLUE),
        area(mikura28, Y28, BLUE),
        area(eastPatch28, Y28, BLUE),
        area(suruga28, Y28, BLUE),
        area(surugaHole, SEA, BLUE),
        area(surugaTip, SEA, BLUE),
        area(tokyoBay28, Y28, BLUE),
        area(boso28, Y28, BLUE),
        area(bosoHole, SEA, BLUE),
        area(boso275, Y275, GREY, 1.2),
        area(boso27, Y27, BLUE),
        area(choshi265, G265, GREY, 1.2),
        area(north265, G265, GREY, 1.2),
        area(north26, G26, BLUE),
        area(north255, G255, GREY, 1),
        area(northCorner, Y28, BLUE)
    );
    [line29Gulf, line29Below, loop29, line29Left, line29Edge, line29Foot, line29FootB, loop29South, line29SouthB, line29Aoga, line29AogaB, line29Mid, line29MidB, line29MidC, line29Long, line29Ring, line29RingB, line29RingC, loop29Inner, line29EastLow, line29Foot2, line29Foot2B, line29Corner, line29Right, line29RightB, lineNorthInner].forEach(p => {
        seaLayers.push(contour(p));
    });

    const lastSeaLayer = seaLayers.length - 1;

    const landLayer = area(coastline, '#fff', '#333', 0.7);
    landLayer.tension = 0;
    const topLayers = [
        landLayer,
        area(atsumiSea, SEA, '#333', 0.7),
        kuroshio(kuroshioWest),
        kuroshio(kuroshioEast),
        island(islandOshima), island(islandToshima), island(islandNiijima), island(islandShikine), island(islandKozu),
        island(islandMiyake), island(islandMikura), island(islandHachijo), island(islandKojima), island(islandAoga)
    ];

    const layers = seaLayers.concat(topLayers);
    layers.forEach((ds, i) => { ds.order = layers.length - i; });

    // y axis follows the Mercator spacing of the map
    function merc(lat) {
        return Math.log(Math.tan(Math.PI / 4 + lat * Math.PI / 360));
    }

    class MercatorScale extends Chart.LinearScale {
        getPixelForValue(value) {
            const a = merc(this.min);
            const b = merc(this.max);
            return this.getPixelForDecimal((merc(value) - a) / (b - a));
        }
    }
    MercatorScale.id = 'mercator';
    MercatorScale.defaults = Chart.LinearScale.defaults;
    Chart.register(MercatorScale);

    const tenMinLon = [];
    for (let i = 1; i < 24; i++) tenMinLon.push(137.5 + i / 6);
    const tenMinLat = [];
    for (let i = 1; i < 24; i++) tenMinLat.push(32 + i / 6);

    const tickFont = { family: 'Liberation Sans', size: 29 };

    function tickList(values) {
        return scale => { scale.ticks = values.map(v => ({ value: v })); };
    }

    function majorAxis(type, position, values, thick, borderColor, borderWidth, showGrid, padding, labelOffset) {
        const horizontal = position === 'top' || position === 'bottom';
        return {
            type: type,
            position: position,
            min: horizontal ? 137.5 : 32,
            max: horizontal ? 141.5 : 36,
            afterBuildTicks: tickList(values),
            afterFit: scale => { if (horizontal) scale.height = thick; else scale.width = thick; },
            // the 35 degree line is not ruled on this map
            grid: {
                display: showGrid,
                color: ctx => (!horizontal && ctx.tick && ctx.tick.value === 35) ? 'rgba(0,0,0,0)' : 'rgba(60,38,0,0.75)',
                lineWidth: 1.2,
                drawTicks: false
            },
            border: { display: true, color: borderColor, width: borderWidth },
            ticks: {
                autoSkip: false,
                maxRotation: 0,
                color: '#000',
                font: tickFont,
                padding: padding,
                labelOffset: labelOffset,
                callback: v => v + '˚'
            }
        };
    }

    function minorAxis(type, position, values) {
        const horizontal = position === 'bottom';
        return {
            type: type,
            position: position,
            min: horizontal ? 137.5 : 32,
            max: horizontal ? 141.5 : 36,
            afterBuildTicks: tickList(values),
            afterFit: scale => { if (horizontal) scale.height = 0; else scale.width = 0; },
            grid: { display: true, color: 'rgba(90,60,0,0.5)', lineWidth: 1, drawTicks: false },
            border: { display: false, dash: [2, 3] },
            ticks: { display: false, autoSkip: false }
        };
    }

    // Grid sits above the sea but under the land
    const gridOverSea = {
        id: 'gridOverSea',
        afterDatasetDraw(chart, args) {
            if (args.index !== lastSeaLayer) return;
            ['xMinor', 'yMinor', 'x', 'y'].forEach(id => chart.scales[id].drawGrid(chart.chartArea));
        }
    };

    const mapText = {
        id: 'mapText',
        afterDatasetsDraw(chart) {
            const ctx = chart.ctx;
            const x = chart.scales.x;
            const y = chart.scales.y;
            ctx.save();
            ctx.textAlign = 'center';
            ctx.textBaseline = 'middle';
            ctx.fillStyle = '#222';
            ctx.font = '11px "Noto Sans CJK JP"';
            placeNames.forEach(p => {
                ctx.fillText(p[0], x.getPixelForValue(p[1]), y.getPixelForValue(p[2]));
            });
            ctx.fillStyle = '#000';
            ctx.font = '18px "Liberation Sans"';
            contourLabels.forEach(l => {
                ctx.save();
                ctx.translate(x.getPixelForValue(l[1]), y.getPixelForValue(l[2]));
                ctx.rotate(l[3] * Math.PI / 180);
                ctx.fillText(l[0], 0, 0);
                ctx.restore();
            });
            ctx.restore();
        }
    };

    new Chart(document.getElementById('map'), {
        type: 'scatter',
        data: { datasets: layers },
        plugins: [gridOverSea, mapText],
        options: {
            responsive: false,
            animation: false,
            layout: { padding: 0 },
            plugins: { legend: { display: false }, tooltip: { enabled: false } },
            scales: {
                x: majorAxis('linear', 'bottom', lonTicks, 46, '#111', 3, true, 5, -2),
                xTop: majorAxis('linear', 'top', lonTicks, 76, '#777', 1, false, 1, -2),
                y: majorAxis('mercator', 'left', latTicks, 99, '#999', 1, true, 9, 3),
                yRight: majorAxis('mercator', 'right', latTicks, 102, '#333', 1, false, 9, 3),
                xMinor: minorAxis('linear', 'bottom', tenMinLon),
                yMinor: minorAxis('mercator', 'left', tenMinLat)
            }
        }
    });

    // Bulletin table under the map
    const colX = [244, 355, 467, 579, 690, 801, 912];
    const rowY = [1341, 1378, 1415];
    const tableEl = document.getElementById('table');

    function addCell(text, x, y, cls) {
        const el = document.createElement('div');
        el.className = 'cell ' + cls;
        el.textContent = text;
        el.style.left = x + 'px';
        el.style.top = y + 'px';
        tableEl.appendChild(el);
    }

    stationNames.forEach((name, i) => addCell(name, colX[i], 1304, 'head'));
    rowLabels.forEach((name, i) => addCell(name, 124, rowY[i], 'head'));
    [waterTemps, dayDiffs, normalDiffs].forEach((row, r) => {
        row.forEach((v, i) => addCell(v, colX[i], rowY[r], 'num'));
    });
</script>
</body>
</html>
